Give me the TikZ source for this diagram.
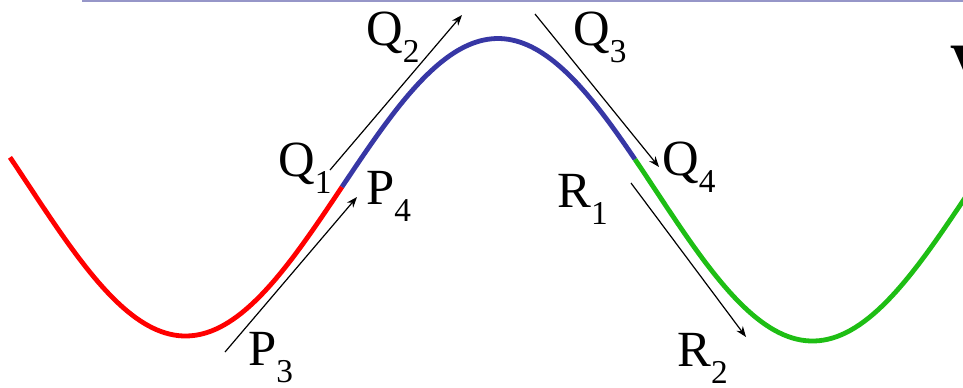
\documentclass[tikz,border=0pt]{standalone}
\usepackage{fontspec}
\setmainfont{Liberation Serif}
\usetikzlibrary{arrows.meta}
\definecolor{cred}{RGB}{255,0,0}
\definecolor{cblue}{RGB}{55,55,165}
\definecolor{cgreen}{RGB}{30,190,20}
\definecolor{cline}{RGB}{150,150,200}
\newcommand\lbl[2]{#1\raisebox{-0.34em}{\fontsize{25}{25}\selectfont #2}}
\begin{document}
\begin{tikzpicture}[x=0.75pt,y=-0.75pt,
  wave/.style={line width=3.6pt},
  mv/.style={-{Stealth[length=8pt,width=6pt]},line width=0.9pt,black},
  lab/.style={anchor=base west,inner sep=0pt,font=\fontsize{38}{38}\selectfont}]
\useasboundingbox (0,0) rectangle (963,387);
\draw[cline,line width=1.6pt] (82,1) -- (963,1);
\draw[wave,cred] plot[domain=10:342,samples=80] (\x,{186+0.008*(\x-185)+150*cos((\x-185)*0.57416)});
\draw[wave,cblue] plot[domain=342:635,samples=80] (\x,{186+0.008*(\x-185)+150*cos((\x-185)*0.57416)});
\draw[wave,cgreen] plot[domain=635:990,samples=80] (\x,{186+0.008*(\x-185)+150*cos((\x-185)*0.57416)});
% arrows
\coordinate (p3s) at (225,352); \coordinate (p4e) at (357,197);
\coordinate (q1s) at (330,170); \coordinate (q2e) at (462,15);
\coordinate (q3s) at (535,14);  \coordinate (q4e) at (659,167);
\coordinate (r1s) at (631,183); \coordinate (r2e) at (746,337);
\draw[mv] (p3s) -- (p4e);
\draw[mv] (q1s) -- (q2e);
\draw[mv] (q3s) -- (q4e);
\draw[mv] (r1s) -- (r2e);
% labels
\node[lab] (Q2) at (366,45) {\lbl{Q}{2}};
\node[lab] (Q3) at (573,45) {\lbl{Q}{3}};
\node[lab] (Q1) at (278,176) {\lbl{Q}{1}};
\node[lab] (P4) at (366,204) {\lbl{P}{4}};
\node[lab] (Q4) at (662,175) {\lbl{Q}{4}};
\node[lab] (R1) at (557,207) {\lbl{R}{1}};
\node[lab] (P3) at (248,365) {\lbl{P}{3}};
\node[lab] (R2) at (677,366) {\lbl{R}{2}};
\node[lab,font=\fontsize{44}{44}\selectfont\bfseries] (V) at (950,84) {V};
\end{tikzpicture}
\end{document}
